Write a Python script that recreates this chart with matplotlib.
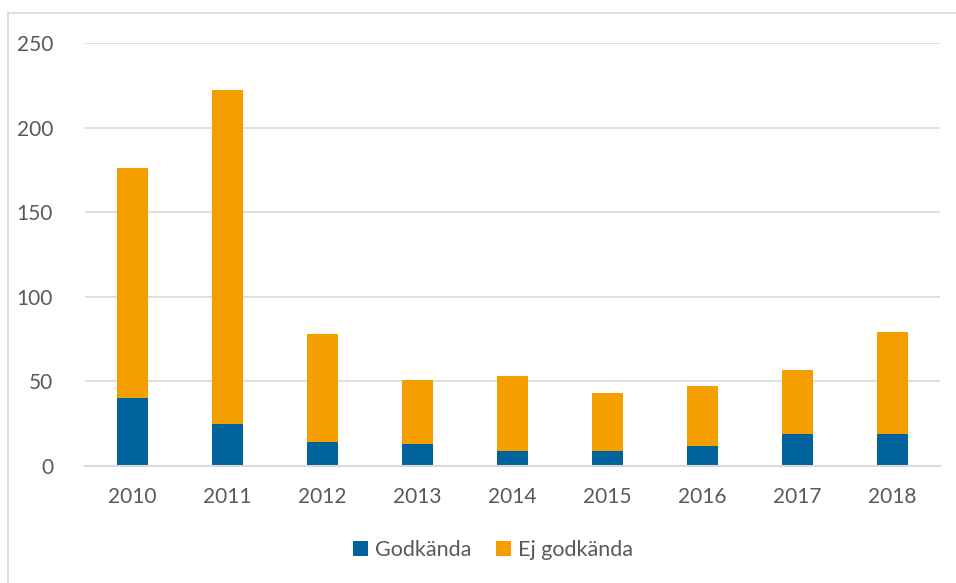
import numpy as np
import matplotlib.pyplot as plt
from matplotlib.patches import Rectangle

years = ["2010", "2011", "2012", "2013", "2014", "2015", "2016", "2017", "2018"]
godkanda = [40, 25, 14, 13, 9, 9, 12, 19, 19]
totals = [176, 222, 78, 51, 53, 43, 47, 57, 79]
ej_godkanda = [t - g for t, g in zip(totals, godkanda)]

blue = "#00639B"
orange = "#F59E00"
grid = "#D9D9D9"
text = "#595959"

plt.rcParams["font.family"] = ["Lato", "DejaVu Sans"]

fig = plt.figure(figsize=(9.56, 5.83), dpi=100)
ax = fig.add_axes([85 / 956, 1 - 466 / 583, 855 / 956, 423 / 583])

x = np.arange(len(years))
w = 0.316
ax.bar(x, godkanda, w, color=blue, label="Godkända", zorder=3)
ax.bar(x, ej_godkanda, w, bottom=godkanda, color=orange, label="Ej godkända", zorder=3)

ax.set_xlim(-0.5, len(years) - 0.5)
ax.set_ylim(0, 250)
ax.set_yticks(range(0, 251, 50))
ax.set_xticks(x)
ax.set_xticklabels(years)
ax.yaxis.grid(True, color=grid, linewidth=1.2, zorder=0)
for s in ["top", "right", "left"]:
    ax.spines[s].set_visible(False)
ax.spines["bottom"].set_color(grid)
ax.spines["bottom"].set_linewidth(1.5)
ax.spines["bottom"].set_zorder(4)
ax.tick_params(axis="both", length=0, labelsize=15, colors=text)
ax.tick_params(axis="y", pad=23)
ax.tick_params(axis="x", pad=15)

fig.legend(loc="center", bbox_to_anchor=(493 / 956, 1 - 550 / 583), ncol=2,
           frameon=False, fontsize=15.5, labelcolor=text, handlelength=0.7,
           handleheight=0.7, handletextpad=0.35, columnspacing=1.1)

# outer chart border, only left and top fall inside the image
fig.patches.append(Rectangle((8 / 956, -0.1), 1.2, 1.1 - 13 / 583,
                             transform=fig.transFigure, fill=False,
                             edgecolor=grid, linewidth=1.2))

fig.savefig("out.png", dpi=100)
